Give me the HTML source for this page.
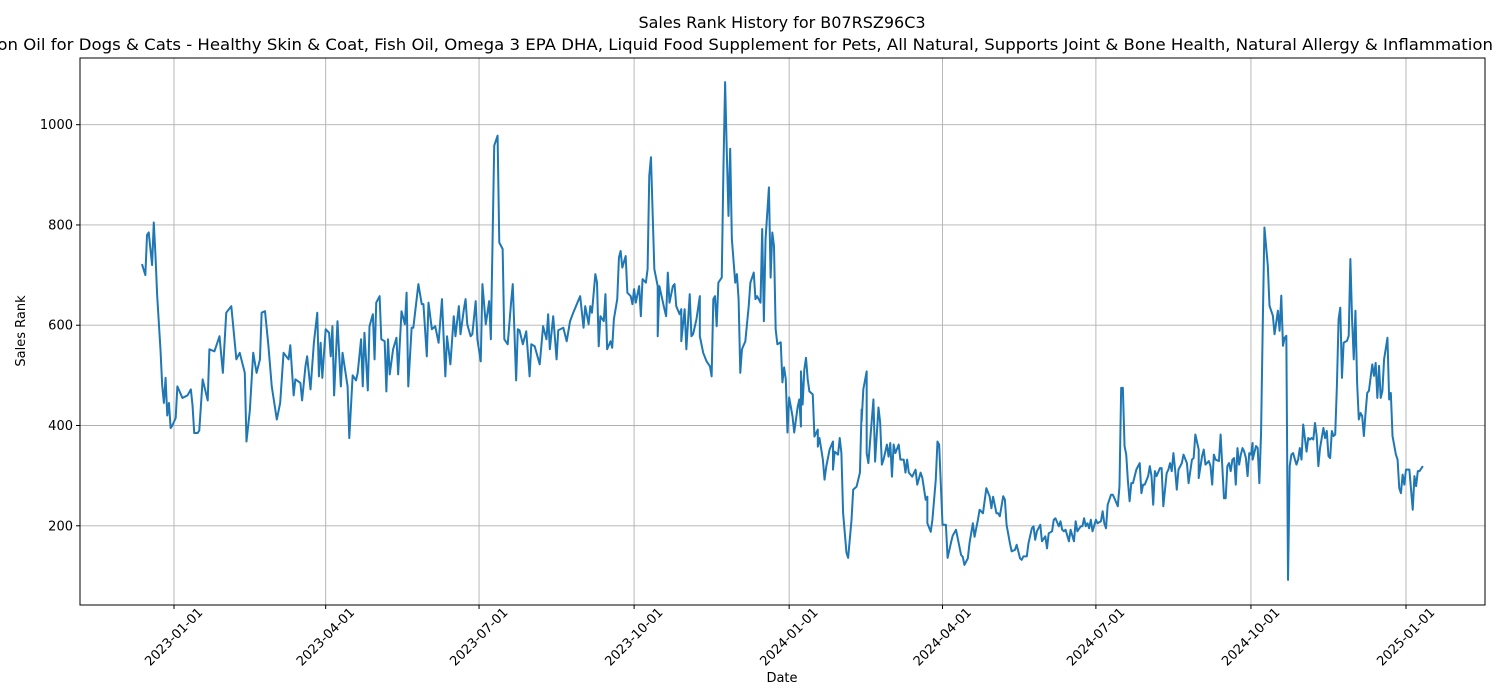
<!DOCTYPE html>
<html><head><meta charset="utf-8"><style>
html,body{margin:0;padding:0;background:#fff;}
svg{display:block;font-family:"DejaVu Sans","Liberation Sans",sans-serif;}
</style></head><body>
<svg id="chart" width="1500" height="700" viewBox="0 0 1500 700" xmlns="http://www.w3.org/2000/svg">
<rect width="1500" height="700" fill="#fff"/>
<g id="grid"></g>
<g id="series"></g>
<rect x="80" y="58" width="1405" height="547" fill="none" stroke="#000" stroke-width="1"/>
<g id="xticks"></g>
<g id="yticks"></g>
<text x="782" y="28" text-anchor="middle" font-size="16">Sales Rank History for B07RSZ96C3</text>
<text x="-44" y="50" text-anchor="start" font-size="16" textLength="1537" lengthAdjust="spacingAndGlyphs">Salmon Oil for Dogs &amp; Cats - Healthy Skin &amp; Coat, Fish Oil, Omega 3 EPA DHA, Liquid Food Supplement for Pets, All Natural, Supports Joint &amp; Bone Health, Natural Allergy &amp; Inflammation</text>
<text x="782" y="682" text-anchor="middle" font-size="13">Date</text>
<text x="25" y="331" text-anchor="middle" font-size="13" transform="rotate(-90 25 331)">Sales Rank</text>
</svg>
<script>
const startDate = "2022-12-13";
const days = [0,2,3,4,6,7,8,9,11,12,13,14,15,16,17,18,20,21,24,27,29,30,31,33,34,36,39,40,43,46,48,50,53,56,58,61,62,64,66,68,70,71,73,75,77,80,82,84,87,88,90,91,94,95,97,98,100,102,104,105,106,107,109,111,112,113,114,116,118,119,122,123,125,127,128,130,131,132,134,135,137,138,139,141,142,144,145,146,147,149,151,152,154,156,157,158,160,161,164,166,167,169,170,172,174,176,178,180,181,183,185,186,188,189,191,192,193,195,196,198,199,201,202,204,206,207,209,211,212,214,215,217,219,220,222,223,224,226,228,230,231,233,236,238,240,241,242,244,246,247,250,252,254,256,258,260,262,263,265,266,267,269,270,271,272,274,275,276,278,279,280,282,283,284,285,287,288,290,291,292,293,295,296,297,299,300,301,302,304,306,306,307,310,311,312,313,315,316,317,319,320,320,322,323,325,326,327,329,331,331,333,335,337,338,339,340,341,342,344,345,346,347,348,349,350,352,353,354,355,356,358,360,361,363,364,365,367,368,369,370,372,373,374,375,376,377,379,380,381,382,383,384,386,387,389,390,391,391,392,393,394,395,396,398,399,401,401,402,404,405,406,408,410,410,411,413,414,415,416,418,419,421,422,424,426,427,427,428,430,430,431,434,435,437,438,439,440,442,443,444,445,446,447,449,450,452,453,454,455,457,459,460,462,463,465,466,466,468,469,471,472,473,475,477,478,480,481,483,486,487,488,490,491,493,494,496,497,499,501,503,504,505,507,508,509,511,512,513,515,516,518,519,521,522,523,525,526,528,529,530,531,533,534,536,537,538,540,541,542,544,545,546,547,548,550,551,553,554,555,557,558,559,560,561,562,563,564,566,567,569,570,571,572,573,575,576,577,579,580,581,582,583,584,585,586,587,588,590,592,593,594,595,597,598,599,600,601,602,604,605,606,608,609,610,611,612,613,614,615,617,618,620,621,623,624,625,627,627,629,630,631,633,634,635,636,637,639,640,642,643,644,645,646,647,648,649,650,651,652,653,654,655,656,657,658,659,659,661,662,663,664,665,666,668,669,671,672,674,675,676,677,678,679,680,681,682,683,685,686,687,688,689,690,691,692,693,694,695,696,697,698,699,701,702,703,704,705,706,707,708,709,710,711,712,713,715,716,717,718,719,720,721,722,723,724,725,726,727,728,730,731,732,733,734,735,736,737,739,740,741,742,744,745,746,747,748,749,750,752,754,755,756,757,758,760];
const ranks = [722,700,780,785,720,805,740,660,550,480,445,495,420,445,395,400,415,478,455,460,472,440,385,385,390,492,450,552,548,578,505,625,638,532,545,505,368,430,545,505,532,625,628,560,478,412,445,545,532,560,460,492,485,450,518,538,472,565,625,498,565,495,592,585,538,598,460,608,478,545,478,375,500,490,505,572,478,585,470,598,622,532,645,658,572,568,468,572,502,552,575,502,628,602,665,478,595,595,682,642,642,538,645,592,598,565,652,498,578,522,618,578,638,582,632,652,602,578,582,648,572,528,682,602,648,572,958,978,765,752,572,562,645,682,490,592,590,562,588,498,562,558,522,598,572,622,552,618,532,590,595,568,608,626,642,658,595,638,602,638,625,702,685,558,618,608,662,552,568,555,612,652,735,748,715,738,665,658,642,672,645,678,618,692,685,712,898,935,712,678,578,678,632,618,705,645,678,682,638,622,632,568,632,552,662,578,582,612,658,578,545,528,518,498,652,658,598,685,695,912,1085,945,818,952,772,685,702,652,505,552,568,638,685,705,652,658,645,792,608,772,875,695,785,758,592,562,566,486,516,492,386,456,418,386,436,452,398,508,442,512,535,492,468,462,378,392,358,375,332,292,318,352,368,312,348,342,375,345,226,146,136,212,272,278,306,432,408,472,508,345,325,452,328,436,406,322,332,362,338,365,298,362,345,362,332,332,306,332,306,298,312,282,306,296,252,258,205,188,212,292,368,362,202,202,136,166,180,192,142,138,122,135,165,205,178,212,232,225,275,258,235,258,225,225,219,259,252,202,165,149,152,162,135,132,139,139,165,195,199,172,189,202,169,179,155,185,189,212,215,199,209,192,189,192,169,192,169,209,189,199,199,215,199,205,195,212,189,212,205,209,229,205,195,242,262,262,255,239,279,475,475,359,342,289,249,285,285,312,325,265,282,282,299,319,299,242,309,299,315,315,239,305,312,325,309,345,312,272,312,325,342,325,285,332,335,382,352,295,339,352,322,329,319,282,342,332,329,382,255,255,319,325,309,332,335,282,355,322,342,355,348,335,299,345,342,365,332,359,355,285,385,599,795,719,639,619,582,629,589,659,559,575,579,92,319,342,345,322,332,355,332,402,375,348,375,372,375,372,405,379,319,355,395,375,389,339,335,389,379,382,479,612,635,495,565,569,579,732,612,532,629,485,412,425,419,379,425,465,469,522,499,525,455,519,455,469,532,575,452,465,379,342,332,275,265,302,282,312,312,232,299,279,309,309,319];
const xTickLabels = ["2023-01","2023-04","2023-07","2023-10","2024-01","2024-04","2024-07","2024-10","2025-01"];
const yTickValues = [200,400,600,800,1000];

const NS = "http://www.w3.org/2000/svg";
const L = 80, R = 1485, T = 58, B = 605;
const DAY = 86400000;
const t2023 = Date.UTC(2023,0,1), t2025 = Date.UTC(2025,0,1);
function xScale(t){ return 174 + (t - t2023) / (t2025 - t2023) * (1406 - 174); }
const yMin = 42, yMax = 1133;
function yScale(v){ return B - (v - yMin) / (yMax - yMin) * (B - T); }
function parseYM(s){ const p = s.split("-"); return Date.UTC(+p[0], +p[1]-1, 1); }
const t0 = Date.parse(startDate + "T00:00:00Z");

const grid = document.getElementById("grid");
const xt = document.getElementById("xticks");
const yt = document.getElementById("yticks");

xTickLabels.forEach(lab => {
  const x = xScale(parseYM(lab));
  const g = document.createElementNS(NS, "line");
  g.setAttribute("x1", x); g.setAttribute("x2", x); g.setAttribute("y1", T); g.setAttribute("y2", B);
  g.setAttribute("stroke", "#b0b0b0"); g.setAttribute("stroke-width", "0.9");
  
  
  grid.appendChild(g);
  const tk = document.createElementNS(NS, "line");
  tk.setAttribute("x1", x); tk.setAttribute("x2", x); tk.setAttribute("y1", B); tk.setAttribute("y2", B + 4);
  tk.setAttribute("stroke", "#000");
  
  
  xt.appendChild(tk);
  const cx = x, cy = B + 32;
  const tx = document.createElementNS(NS, "text");
  tx.setAttribute("x", cx); tx.setAttribute("y", cy + 4);
  tx.setAttribute("text-anchor", "middle"); tx.setAttribute("font-size", "13");
  tx.setAttribute("transform", "rotate(-45 " + cx + " " + cy + ")");
  tx.textContent = lab + "-01";
  
  
  xt.appendChild(tx);
});

yTickValues.forEach(v => {
  const y = yScale(v);
  const g = document.createElementNS(NS, "line");
  g.setAttribute("x1", L); g.setAttribute("x2", R); g.setAttribute("y1", y); g.setAttribute("y2", y);
  g.setAttribute("stroke", "#b0b0b0"); g.setAttribute("stroke-width", "0.9");
  
  
  grid.appendChild(g);
  const tk = document.createElementNS(NS, "line");
  tk.setAttribute("x1", L - 4); tk.setAttribute("x2", L); tk.setAttribute("y1", y); tk.setAttribute("y2", y);
  tk.setAttribute("stroke", "#000");
  
  
  yt.appendChild(tk);
  const tx = document.createElementNS(NS, "text");
  tx.setAttribute("x", L - 7); tx.setAttribute("y", y + 4.5);
  tx.setAttribute("text-anchor", "end"); tx.setAttribute("font-size", "13");
  tx.textContent = v;
  
  
  yt.appendChild(tx);
});

let d = "";
for (let i = 0; i < ranks.length; i++) {
  const x = xScale(t0 + days[i] * DAY), y = yScale(ranks[i]);
  d += (i ? "L" : "M") + x.toFixed(2) + " " + y.toFixed(2);
}
const path = document.createElementNS(NS, "path");
path.setAttribute("d", d);
path.setAttribute("fill", "none"); path.setAttribute("stroke", "#1f77b4");
path.setAttribute("stroke-width", "2"); path.setAttribute("stroke-linejoin", "round");


document.getElementById("series").appendChild(path);
</script>
</body></html>
